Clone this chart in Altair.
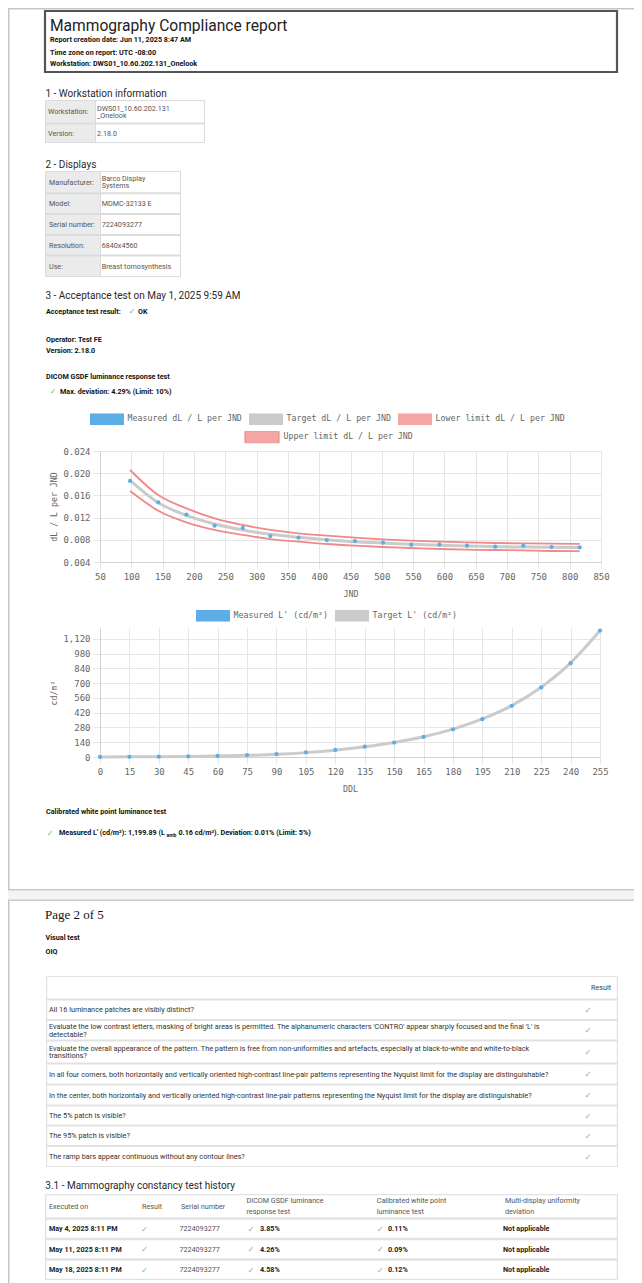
import altair as alt
import pandas as pd

# ------------------------------------------------------------------ text content
REPORT_TITLE = "Mammography Compliance report"
REPORT_META = [
    "Report creation date: Jun 11, 2025 8:47 AM",
    "Time zone on report: UTC -08:00",
    "Workstation: DWS01_10.60.202.131_Onelook",
]
SECTION_TITLES = [
    "1 - Workstation information",
    "2 - Displays",
    "3 - Acceptance test on May 1, 2025 9:59 AM",
]
WS_LABELS = ["Workstation:", "Version:"]
WS_VALUES = [["DWS01_10.60.202.131", "_Onelook"], ["2.18.0"]]
DISPLAY_LABELS = ["Manufacturer:", "Model:", "Serial number:", "Resolution:", "Use:"]
DISPLAY_VALUES = [["Barco Display", "Systems"], ["MDMC-32133 E"], ["7224093277"],
                  ["6840x4560"], ["Breast tomosynthesis"]]
ACCEPT_LABEL = "Acceptance test result:"
ACCEPT_RESULT = "OK"
OPERATOR_LINES = ["Operator: Test FE", "Version: 2.18.0"]
GSDF_TITLE = "DICOM GSDF luminance response test"
GSDF_RESULT = "Max. deviation: 4.29% (Limit: 10%)"
WHITE_TITLE = "Calibrated white point luminance test"
WHITE_RESULT = ["Measured L' (cd/m²): 1,199.89 (L", "amb",
                " 0.16 cd/m²). Deviation: 0.01% (Limit: 5%)"]
PAGE_LABEL = "Page 2 of 5"
VISUAL_TITLE = "Visual test"
OIQ_TITLE = "OIQ"
OIQ_HEADER = "Result"
OIQ_QUESTIONS = [
    ["All 16 luminance patches are visibly distinct?"],
    ["Evaluate the low contrast letters, masking of bright areas is permitted. The alphanumeric characters 'CONTRO' appear sharply focused and the final 'L' is",
     "detectable?"],
    ["Evaluate the overall appearance of the pattern. The pattern is free from non-uniformities and artefacts, especially at black-to-white and white-to-black",
     "transitions?"],
    ["In all four corners, both horizontally and vertically oriented high-contrast line-pair patterns representing the Nyquist limit for the display are distinguishable?"],
    ["In the center, both horizontally and vertically oriented high-contrast line-pair patterns representing the Nyquist limit for the display are distinguishable?"],
    ["The 5% patch is visible?"],
    ["The 95% patch is visible?"],
    ["The ramp bars appear continuous without any contour lines?"],
]
HISTORY_TITLE = "3.1 - Mammography constancy test history"
HISTORY_HEADERS = [["Executed on"], ["Result"], ["Serial number"],
                   ["DICOM GSDF luminance", "response test"],
                   ["Calibrated white point", "luminance test"],
                   ["Multi-display uniformity", "deviation"]]
HISTORY_DATES = ["May 4, 2025 8:11 PM", "May 11, 2025 8:11 PM", "May 18, 2025 8:11 PM"]
HISTORY_SERIALS = ["7224093277", "7224093277", "7224093277"]
HISTORY_GSDF = ["3.85%", "4.26%", "4.58%"]
HISTORY_WHITE = ["0.11%", "0.09%", "0.12%"]
HISTORY_MULTI = ["Not applicable", "Not applicable", "Not applicable"]
CHECK = "✓"

# ------------------------------------------------------------------ chart data
S_MEAS = "Measured dL / L per JND"
S_TARG = "Target dL / L per JND"
S_LOW = "Lower limit dL / L per JND"
S_UP = "Upper limit dL / L per JND"
JND = [98, 143, 188, 233, 278, 322, 367, 412, 457, 502, 547, 592, 636, 681, 726, 771, 816]
MEASURED_DL = [0.01860, 0.01475, 0.01253, 0.01055, 0.01013, 0.00868, 0.00838, 0.00796, 0.00778,
               0.00748, 0.00712, 0.00712, 0.00694, 0.00676, 0.00694, 0.00670, 0.00665]
TARGET_DL = [0.01871, 0.01469, 0.01241, 0.01085, 0.00977, 0.00898, 0.00844, 0.00802, 0.00766,
             0.00742, 0.00718, 0.00700, 0.00688, 0.00676, 0.00670, 0.00664, 0.00660]
LOWER_DL = [0.01679, 0.01325, 0.01115, 0.00977, 0.00887, 0.00814, 0.00766, 0.00724, 0.00694,
            0.00670, 0.00652, 0.00634, 0.00622, 0.00616, 0.00610, 0.00598, 0.00596]
UPPER_DL = [0.02058, 0.01607, 0.01367, 0.01187, 0.01067, 0.00977, 0.00917, 0.00874, 0.00838,
            0.00808, 0.00784, 0.00766, 0.00754, 0.00742, 0.00736, 0.00730, 0.00728]
JND_TICKS = [50, 100, 150, 200, 250, 300, 350, 400, 450, 500, 550, 600, 650, 700, 750, 800, 850]
DL_TICKS = [0.004, 0.008, 0.012, 0.016, 0.020, 0.024]

S2_MEAS = "Measured L' (cd/m²)"
S2_TARG = "Target L' (cd/m²)"
DDL = [0, 15, 30, 45, 60, 75, 90, 105, 120, 135, 150, 165, 180, 195, 210, 225, 240, 255]
MEASURED_L = [0.5, 1.4, 3.2, 5.9, 9.8, 18.0, 28.0, 44.0, 67.0, 98.0, 137.0, 190.0, 263.0,
              359.0, 486.0, 660.0, 890.0, 1199.89]
TARGET_L = [0.5, 1.3, 2.9, 5.4, 9.2, 15.5, 25.5, 41.5, 65.0, 97.0, 138.0, 192.0, 265.0,
            361.0, 488.0, 662.0, 893.0, 1199.76]
DDL_TICKS = [0, 15, 30, 45, 60, 75, 90, 105, 120, 135, 150, 165, 180, 195, 210, 225, 240, 255]
L_TICKS = [0, 140, 280, 420, 560, 700, 840, 980, 1120]

# ------------------------------------------------------------------ styles
MONO = "DejaVu Sans Mono"
SANS = "Roboto"
SERIF = "Liberation Serif"
SYMF = "DejaVu Sans"
BLUE = "#5dade6"
GRAY = "#cbcbcb"
RED = "#f08a8a"
PINK = "#f4a6a6"
GREEN = "#86c486"
BORDER = "#c6c6c6"
BOX = "M-1,-0.35H1V0.35H-1Z"
PLOT_X = 100          # page x of the shared panel origin (plot area left edge)
PANEL_W = 634 - PLOT_X
FS_BOLD = 7.2         # small bold report text
FS_CELL = 7.2         # table cell text


def text_layer(items, origin, size, color, weight="normal", font=SANS, align="left"):
    ox, oy = origin
    df = pd.DataFrame({"x": [i[0] - ox for i in items],
                       "y": [i[1] - oy for i in items],
                       "t": [i[2] for i in items]})
    return alt.Chart(df).mark_text(
        align=align, baseline="alphabetic", font=font, fontSize=size,
        fontWeight=weight, color=color
    ).encode(
        x=alt.X("x:Q", scale=None, axis=None),
        y=alt.Y("y:Q", scale=None, axis=None),
        text=alt.Text("t:N"),
    )


def rect_layer(items, origin, fill, stroke="", sw=0):
    ox, oy = origin
    df = pd.DataFrame({"x": [i[0] - ox for i in items], "x2": [i[1] - ox for i in items],
                       "y": [i[2] - oy for i in items], "y2": [i[3] - oy for i in items]})
    kw = {"fill": fill}
    if stroke:
        kw.update(stroke=stroke, strokeWidth=sw)
    return alt.Chart(df).mark_rect(**kw).encode(
        x=alt.X("x:Q", scale=None, axis=None), x2="x2:Q",
        y=alt.Y("y:Q", scale=None, axis=None), y2="y2:Q",
    )


def checks(items, origin, align="left"):
    return text_layer(items, origin, 8.5, GREEN, font=SYMF, align=align)


def kv_table(labels, values, x0, xs, x1, bounds, label_x, value_x, origin):
    top, bottom = bounds[0][0], bounds[-1][1]
    layers = [
        rect_layer([(x0, x1, top, bottom)], origin, "#dcdcdc"),
        rect_layer([(x0 + 1, xs, t + 1, b - 1) for t, b in bounds], origin, "#ebebeb"),
        rect_layer([(xs + 1, x1 - 1, t + 1, b - 1) for t, b in bounds], origin, "#ffffff"),
    ]
    lab = [(label_x, (t + b) / 2 + 2.5, l) for l, (t, b) in zip(labels, bounds)]
    val = []
    for vals, (t, b) in zip(values, bounds):
        c = (t + b) / 2
        for i, v in enumerate(vals):
            val.append((value_x, c + (i - (len(vals) - 1) / 2) * 7 + 2.5, v))
    layers += [text_layer(lab, origin, FS_CELL, "#555555"), text_layer(val, origin, FS_CELL, "#555555")]
    return layers


# ------------------------------------------------------------------ panel 1 (page top)
O1 = (PLOT_X, 8)
p1_layers = [
    rect_layer([(8, 634, 8, 9.5), (8, 9.5, 8, 398)], O1, BORDER),
    rect_layer([(45, 617, 11, 72)], O1, "#ffffff", stroke="#555555", sw=2.2),
    text_layer([(50, 30.7, REPORT_TITLE)], O1, 15.6, "#222222"),
    text_layer([(50, b, t) for b, t in zip([42.4, 54.7, 65.7], REPORT_META)], O1, FS_BOLD, "#111111", "bold"),
    text_layer([(45.5, b, t) for b, t in zip([96.8, 167.5, 298.5], SECTION_TITLES)], O1, 10, "#2a2a2a"),
]
p1_layers += kv_table(WS_LABELS, WS_VALUES, 45, 95, 205, [(100, 123.5), (123.5, 143)], 48, 97, O1)
p1_layers += kv_table(DISPLAY_LABELS, DISPLAY_VALUES, 45, 100, 181,
                      [(171, 193.3), (193.3, 214), (214, 235), (235, 255.5), (255.5, 277)], 49, 101.7, O1)
p1_layers += [
    text_layer([(46, 313.5, ACCEPT_LABEL), (138, 313.5, ACCEPT_RESULT),
                (46, 341.5, OPERATOR_LINES[0]), (46, 352.5, OPERATOR_LINES[1]),
                (46, 378.5, GSDF_TITLE), (60, 393.5, GSDF_RESULT)], O1, FS_BOLD, "#111111", "bold"),
    checks([(128.5, 314, CHECK), (49.5, 394, CHECK)], O1),
]
p1 = alt.layer(*p1_layers).properties(width=PANEL_W, height=390)

# ------------------------------------------------------------------ panel 2 (dL/L chart)
rows = []
for name, vals in [(S_MEAS, MEASURED_DL), (S_TARG, TARGET_DL), (S_LOW, LOWER_DL), (S_UP, UPPER_DL)]:
    for j, v in zip(JND, vals):
        rows.append({"series": name, "jnd": j, "value": v})
df_dl = pd.DataFrame(rows)

LEG = dict(labelFont=MONO, labelFontSize=8.25, labelColor="#666666", labelOffset=3.6,
           columnPadding=7, padding=0, labelLimit=300, clipHeight=12,
           symbolType=BOX, symbolSize=1156, orient="none", direction="horizontal")

x_jnd = alt.X("jnd:Q", scale=alt.Scale(domain=[50, 850], nice=False, zero=False),
              axis=alt.Axis(values=JND_TICKS, format="d", title="JND"))
y_dl = alt.Y("value:Q", scale=alt.Scale(domain=[0.004, 0.024], nice=False, zero=False),
             axis=alt.Axis(values=DL_TICKS, format=".3f", title="dL / L per JND", titlePadding=4))

dummy = pd.DataFrame({"k": [0]})
border2 = alt.Chart(dummy).mark_rect(color=BORDER).encode(
    x=alt.value(8 - PLOT_X), x2=alt.value(9.5 - PLOT_X), y=alt.value(-53), y2=alt.value(151))
limits = alt.Chart(df_dl).transform_filter(
    alt.FieldOneOfPredicate(field="series", oneOf=[S_LOW, S_UP])
).mark_line(strokeWidth=1.8, interpolate="monotone").encode(
    x=x_jnd, y=y_dl,
    stroke=alt.Stroke("series:N", title=None,
                      scale=alt.Scale(domain=[S_LOW, S_UP], range=[RED, RED]),
                      legend=alt.Legend(values=[S_UP], legendX=144, legendY=-19.7,
                                        symbolFillColor=PINK, symbolStrokeWidth=1.2, **LEG)),
)
target = alt.Chart(df_dl).transform_filter(alt.datum.series == S_TARG).mark_line(
    color=GRAY, strokeWidth=3, interpolate="monotone").encode(x=x_jnd, y=y_dl)
measured = alt.Chart(df_dl).transform_filter(alt.datum.series == S_MEAS).mark_point(
    filled=True, size=18, opacity=1, shape="circle").encode(
    x=x_jnd, y=y_dl,
    fill=alt.Fill("series:N", title=None,
                  scale=alt.Scale(domain=[S_MEAS, S_TARG, S_LOW], range=[BLUE, GRAY, PINK]),
                  legend=alt.Legend(legendX=-10, legendY=-37.7, symbolStrokeWidth=0, **LEG)),
)
p2 = alt.layer(border2, limits, target, measured).properties(width=501, height=111)

# ------------------------------------------------------------------ panel 3 (luminance chart)
rows = []
for name, vals in [(S2_MEAS, MEASURED_L), (S2_TARG, TARGET_L)]:
    for d, v in zip(DDL, vals):
        rows.append({"series": name, "ddl": d, "lum": v})
df_l = pd.DataFrame(rows)

x_ddl = alt.X("ddl:Q", scale=alt.Scale(domain=[0, 255], nice=False),
              axis=alt.Axis(values=DDL_TICKS, format="d", title="DDL"))
y_lum = alt.Y("lum:Q", scale=alt.Scale(domain=[0, 1224], nice=False),
              axis=alt.Axis(values=L_TICKS, format=",d", title="cd/m²", titlePadding=4))
border3 = alt.Chart(dummy).mark_rect(color=BORDER).encode(
    x=alt.value(8 - PLOT_X), x2=alt.value(9.5 - PLOT_X), y=alt.value(-26), y2=alt.value(172))
target2 = alt.Chart(df_l).transform_filter(alt.datum.series == S2_TARG).mark_line(
    color=GRAY, strokeWidth=3, interpolate="monotone").encode(x=x_ddl, y=y_lum)
measured2 = alt.Chart(df_l).transform_filter(alt.datum.series == S2_MEAS).mark_point(
    filled=True, size=18, opacity=1, shape="circle").encode(
    x=x_ddl, y=y_lum,
    fill=alt.Fill("series:N", title=None,
                  scale=alt.Scale(domain=[S2_MEAS, S2_TARG], range=[BLUE, GRAY]),
                  legend=alt.Legend(legendX=96, legendY=-18.3, symbolStrokeWidth=0, **LEG)),
)
p3 = alt.layer(border3, target2, measured2).properties(width=500, height=129)

# ------------------------------------------------------------------ panel 4 (rest of page)
O4 = (PLOT_X, 800)
p4_layers = [
    rect_layer([(8, 9.5, 800, 1283)], O4, BORDER),
    rect_layer([(8, 634, 889.5, 900.5)], O4, "#f3f4f4"),
    rect_layer([(8, 634, 889, 890.4), (8, 634, 899.6, 901)], O4, "#c9c9c9"),
    text_layer([(46, 814, WHITE_TITLE), (59, 835.3, WHITE_RESULT[0]),
                (178.5, 835.3, WHITE_RESULT[2])], O4, FS_BOLD, "#111111", "bold"),
    text_layer([(166.5, 837.4, WHITE_RESULT[1])], O4, 5, "#111111", "bold"),
    checks([(46.5, 835.8, CHECK)], O4),
    text_layer([(45, 919.3, PAGE_LABEL)], O4, 13, "#111111", font=SERIF),
    text_layer([(45.5, 939.6, VISUAL_TITLE), (45.5, 954, OIQ_TITLE)], O4, FS_BOLD, "#111111", "bold"),
]
# OIQ table
oiq_bounds = [(976, 999.5), (999.5, 1020), (1020, 1040.5), (1040.5, 1063.5), (1063.5, 1084.5),
              (1084.5, 1105.5), (1105.5, 1125.5), (1125.5, 1146), (1146, 1167)]
p4_layers += [
    rect_layer([(46, 618, 976, 1167)], O4, "#e2e2e2"),
    rect_layer([(47.2, 616.8, t + 1.1, b - 1.1) for t, b in oiq_bounds], O4, "#ffffff"),
    text_layer([(591, (oiq_bounds[0][0] + oiq_bounds[0][1]) / 2 + 2.5, OIQ_HEADER)], O4, FS_CELL, "#444444"),
]
q_items, q_checks = [], []
for lines, (t, b) in zip(OIQ_QUESTIONS, oiq_bounds[1:]):
    c = (t + b) / 2
    for i, line in enumerate(lines):
        q_items.append((49, c + (i - (len(lines) - 1) / 2) * 7.6 + 2.5, line))
    q_checks.append((588, c + 3, CHECK))
p4_layers += [text_layer(q_items, O4, 7.3, "#333333"), checks(q_checks, O4, align="center")]
# constancy history table
hist_bounds = [(1194, 1218.5), (1218.5, 1239), (1239, 1259.5), (1259.5, 1280)]
hist_cols = [49, 142, 181, 246.5, 376.7, 505]
p4_layers += [
    text_layer([(45.3, 1188.5, HISTORY_TITLE)], O4, 10, "#2a2a2a"),
    rect_layer([(45, 618, 1194, 1280)], O4, "#e2e2e2"),
    rect_layer([(46.3, 616.7, t + 1.3, b - 1.3) for t, b in hist_bounds], O4, "#ffffff"),
]
h_items = []
hc = (hist_bounds[0][0] + hist_bounds[0][1]) / 2
for x, lines in zip(hist_cols, HISTORY_HEADERS):
    for i, line in enumerate(lines):
        h_items.append((x, hc + (i - (len(lines) - 1) / 2) * 11 + 2.5, line))
bold_items, gray_items, chk_items = [], [], []
for k, (t, b) in enumerate(hist_bounds[1:]):
    c = (t + b) / 2
    bold_items += [(49, c + 2.5, HISTORY_DATES[k]), (260, c + 2.5, HISTORY_GSDF[k]),
                   (388, c + 2.5, HISTORY_WHITE[k]), (503, c + 2.5, HISTORY_MULTI[k])]
    gray_items.append((179.4, c + 2.5, HISTORY_SERIALS[k]))
    chk_items += [(141, c + 3, CHECK), (247.6, c + 3, CHECK), (376.7, c + 3, CHECK)]
p4_layers += [
    text_layer(h_items, O4, FS_CELL, "#555555"),
    text_layer(bold_items, O4, FS_CELL, "#222222", "bold"),
    text_layer(gray_items, O4, FS_CELL, "#555555"),
    checks(chk_items, O4),
]
p4 = alt.layer(*p4_layers).properties(width=PANEL_W, height=483)

# ------------------------------------------------------------------ assemble
chart = alt.vconcat(p1, p2, p3, p4, spacing=0, padding=0).resolve_scale(
    fill="independent", stroke="independent"
).resolve_legend(
    fill="independent", stroke="independent"
).configure_view(
    strokeWidth=0
).configure_axis(
    labelFont=MONO, labelFontSize=9, labelColor="#666666",
    titleFont=MONO, titleFontSize=8.25, titleColor="#666666", titleFontWeight="normal",
    gridColor="#e6e6e6", gridWidth=1, tickColor="#e6e6e6", tickSize=7,
    domainColor="#d0d0d0", labelPadding=3, titlePadding=8,
    labelFlush=False, labelOverlap=False,
)

chart.save("out.html", embed_options={"renderer": "svg", "actions": False})
